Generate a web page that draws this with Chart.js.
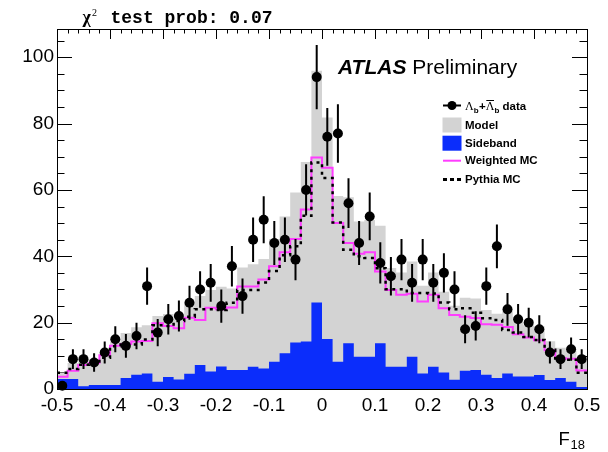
<!DOCTYPE html>
<html>
<head>
<meta charset="utf-8">
<script src="https://cdn.jsdelivr.net/npm/chart.js@4.4.0/dist/chart.umd.min.js"></script>
<style>
  html, body { margin: 0; padding: 0; background: #ffffff; }
  #wrap { width: 608px; height: 452px; position: relative; }
</style>
</head>
<body>
<div id="wrap"><canvas id="chart" width="608" height="452"></canvas></div>
<script>
// Histogram binning of F18: 50 bins from -0.5 to 0.5
const binLow = -0.5;
const binWidth = 0.02;

// Observed Lambda_b + anti-Lambda_b candidates per bin, with their statistical errors
const dataCounts = [1, 9, 9, 8, 11, 15, 13, 16, 31, 17, 21, 22, 26, 30, 32, 25, 37, 28, 45, 51,
                    44, 45, 39, 60, 94, 76, 77, 56, 44, 52, 38, 34, 39, 32, 39, 32, 35, 30, 18, 19,
                    31, 43, 24, 21, 20, 18, 11, 9, 12, 9];
const dataErrors = [1, 3, 3, 2.8, 3.3, 3.9, 3.6, 4, 5.6, 4.1, 4.6, 4.7, 5.1, 5.5, 5.7, 5, 6.1, 5.3, 6.7, 7.1,
                    6.6, 6.7, 6.2, 7.7, 9.7, 8.7, 8.8, 7.5, 6.6, 7.2, 6.2, 5.8, 6.2, 5.7, 6.2, 5.7, 5.9, 5.5, 4.2, 4.4,
                    5.6, 6.6, 4.9, 4.6, 4.5, 4.2, 3.3, 3, 3.5, 3];

// Full model (signal + background) per bin
const modelTotal = [5, 7.8, 8.2, 9, 10.8, 14.2, 16.9, 18.6, 19.2, 22, 22.6, 21.2, 26.1, 28, 29.8, 30.8, 30.3, 36.6, 37.6, 39.2,
                    45.2, 52, 59.2, 68.4, 95.9, 81.8, 58.2, 57.8, 50.5, 50.9, 49.2, 36.5, 35.1, 38.4, 31.1, 35.1, 29.3, 25.1, 27.5, 27.3,
                    23.8, 22.7, 23.4, 20.2, 19.2, 18.9, 14.4, 12.4, 11.5, 8.5];

// Background estimated from the mass sidebands
const sideband = [3, 3, 0.8, 1.2, 1.2, 1.2, 3.3, 4.3, 4.7, 2.2, 3.6, 2.9, 4.6, 7.2, 5.3, 6.8, 5.7, 5.7, 6.7, 6.2,
                  8.2, 10.8, 14, 14.3, 26.1, 15.1, 8.2, 13.8, 9.7, 9.7, 13.8, 6.7, 6.7, 9.7, 4.7, 6.7, 5, 2.8, 5.5, 5.7,
                  4.3, 3.3, 4.7, 3.8, 3.8, 4.2, 2.7, 3.3, 2.2, 0.6];

// Signal Monte Carlo: reweighted and plain Pythia
const weightedMC = [3.7, 5.5, 7.2, 7.8, 10.2, 13, 13.6, 14.3, 14.5, 19.8, 19, 18.3, 21.5, 20.8, 24.5, 24, 24.6, 30.9, 30.9, 33,
                    37, 41.2, 45.2, 54.1, 69.8, 66.7, 50, 44, 40.8, 41.2, 35.4, 29.8, 28.4, 28.7, 26.4, 28.4, 24.3, 22.3, 21.8, 21.4,
                    19.5, 19.4, 18.7, 16.5, 15.5, 14.7, 11.7, 9.3, 9.1, 5.6];
const pythiaMC = [4.9, 6, 7.3, 7.4, 9.4, 12.9, 13.4, 13.4, 14.9, 19.2, 19, 20.5, 21.8, 24, 24, 23.8, 26, 29.8, 29.8, 32.1,
                  35.6, 40.3, 43, 52.2, 68.3, 63.6, 50.2, 42, 40, 39.5, 36.4, 30.1, 30.1, 28.9, 28.9, 28.8, 26.1, 24, 24.3, 23,
                  21.3, 20.8, 17.8, 17, 15.7, 14.8, 11.8, 8.8, 8.8, 4.9];

// Axis ticks and labels
const xTickValues = [-0.5, -0.4, -0.3, -0.2, -0.1, 0, 0.1, 0.2, 0.3, 0.4, 0.5];
const xTickLabels = ['-0.5', '-0.4', '-0.3', '-0.2', '-0.1', '0', '0.1', '0.2', '0.3', '0.4', '0.5'];
const yTickValues = [0, 20, 40, 60, 80, 100];
const yTickLabels = ['0', '20', '40', '60', '80', '100'];
const yMax = 108.5;

const SANS = '"Liberation Sans", Arial, Helvetica, sans-serif';
const GRAY = '#d3d3d3';
const BLUE = '#0b2dfb';
const PINK = '#ff3dff';

// Turn per-bin contents into the corner points of a step outline
function stepPoints(values) {
  const pts = values.map((v, i) => ({ x: binLow + i * binWidth, y: v }));
  pts.push({ x: binLow + values.length * binWidth, y: values[values.length - 1] });
  return pts;
}
const dataPoints = dataCounts.map((v, i) => ({ x: binLow + (i + 0.5) * binWidth, y: v }));

// ROOT-style inward tick marks on all four sides, error bars and frame
const tickMarks = {
  id: 'tickMarks',
  beforeDatasetsDraw(chart) {
    const { ctx, chartArea: a, scales: { x, y } } = chart;
    ctx.save();
    ctx.strokeStyle = '#000';
    ctx.lineWidth = 1;
    ctx.beginPath();
    for (let v = 0; v <= yMax + 1e-9; v += 5) {
      const py = Math.round(y.getPixelForValue(v)) + 0.5;
      const len = (v % 20 === 0) ? 15 : 7.5;
      ctx.moveTo(a.left, py); ctx.lineTo(a.left + len, py);
      ctx.moveTo(a.right, py); ctx.lineTo(a.right - len, py);
    }
    for (let k = 0; k <= 50; k++) {
      const v = binLow + k * binWidth;
      const px = Math.round(x.getPixelForValue(v)) + 0.5;
      const len = (k % 5 === 0) ? 10 : 4.5;
      ctx.moveTo(px, a.top); ctx.lineTo(px, a.top + len);
      ctx.moveTo(px, a.bottom); ctx.lineTo(px, a.bottom - len);
    }
    ctx.stroke();
    ctx.restore();
  },
  afterDatasetsDraw(chart) {
    const { ctx, chartArea: a, scales: { x, y } } = chart;
    ctx.save();
    ctx.strokeStyle = '#000';
    ctx.lineWidth = 2;
    ctx.beginPath();
    dataCounts.forEach((v, i) => {
      const px = x.getPixelForValue(binLow + (i + 0.5) * binWidth);
      ctx.moveTo(px, y.getPixelForValue(Math.max(0, v - dataErrors[i])));
      ctx.lineTo(px, y.getPixelForValue(v + dataErrors[i]));
    });
    ctx.stroke();
    ctx.lineWidth = 1;
    ctx.strokeRect(Math.round(a.left) + 0.5, Math.round(a.top) + 0.5,
                   Math.round(a.right - a.left), Math.round(a.bottom - a.top));
    ctx.restore();
  }
};

// Titles, labels and the legend box
const annotations = {
  id: 'annotations',
  afterDraw(chart) {
    const ctx = chart.ctx;
    ctx.save();
    ctx.fillStyle = '#000';
    ctx.textBaseline = 'alphabetic';
    ctx.textAlign = 'left';

    // chi2 probability header
    ctx.font = 'bold 18px "Liberation Serif", "DejaVu Serif", serif';
    ctx.fillText('\u03c7', 82.5, 22.7);
    ctx.font = '10px "Liberation Serif", "DejaVu Serif", serif';
    ctx.fillText('2', 92, 16);
    ctx.font = 'bold 18px "Liberation Mono", "DejaVu Sans Mono", monospace';
    ctx.fillText('test prob: 0.07', 110.5, 22.7);

    // experiment label
    ctx.font = 'italic bold 21px ' + SANS;
    ctx.fillText('ATLAS', 338, 73.5);
    const wA = ctx.measureText('ATLAS ').width;
    ctx.font = '21px ' + SANS;
    ctx.fillText('Preliminary', 338 + wA, 73.5);

    // x axis title F_18
    ctx.font = '18.5px ' + SANS;
    ctx.fillText('F', 558.5, 444.5);
    ctx.font = '13px ' + SANS;
    ctx.fillText('18', 570.5, 449);

    // legend
    const sx0 = 443, sx1 = 461, tx = 465;
    ctx.strokeStyle = '#000';
    ctx.lineWidth = 2;
    ctx.beginPath(); ctx.moveTo(sx0, 105.5); ctx.lineTo(sx1, 105.5); ctx.stroke();
    ctx.beginPath(); ctx.arc(452, 105.5, 4.5, 0, Math.PI * 2); ctx.fill();
    let cx = tx;
    const base = 110;
    ctx.font = '12px "Liberation Serif", "DejaVu Serif", serif';
    ctx.fillText('\u039b', cx, base); cx += ctx.measureText('\u039b').width;
    ctx.font = 'bold 8px ' + SANS;
    ctx.fillText('b', cx, base + 2.5); cx += ctx.measureText('b').width + 0.5;
    ctx.font = 'bold 11.5px ' + SANS;
    ctx.fillText('+', cx, base); cx += ctx.measureText('+').width;
    ctx.font = '12px "Liberation Serif", "DejaVu Serif", serif';
    const wL = ctx.measureText('\u039b').width;
    ctx.fillText('\u039b', cx, base);
    ctx.lineWidth = 1;
    ctx.beginPath(); ctx.moveTo(cx + 0.5, 100.5); ctx.lineTo(cx + wL - 0.5, 100.5); ctx.stroke();
    cx += wL;
    ctx.font = 'bold 8px ' + SANS;
    ctx.fillText('b', cx, base + 2.5); cx += ctx.measureText('b').width;
    ctx.font = 'bold 11.5px ' + SANS;
    ctx.fillText(' data', cx, base);

    ctx.fillStyle = GRAY;
    ctx.fillRect(442.5, 117.5, 19, 15);
    ctx.fillStyle = BLUE;
    ctx.fillRect(442.5, 135.7, 19, 15);
    ctx.fillStyle = '#000';
    ctx.fillText('Model', tx, 129.3);
    ctx.fillText('Sideband', tx, 147.3);

    ctx.strokeStyle = PINK;
    ctx.lineWidth = 2;
    ctx.beginPath(); ctx.moveTo(sx0, 160.7); ctx.lineTo(sx1, 160.7); ctx.stroke();
    ctx.fillText('Weighted MC', tx, 164);
    ctx.strokeStyle = '#000';
    ctx.lineWidth = 3;
    ctx.setLineDash([4, 3]);
    ctx.beginPath(); ctx.moveTo(sx0, 179.5); ctx.lineTo(sx1, 179.5); ctx.stroke();
    ctx.setLineDash([]);
    ctx.fillText('Pythia MC', tx, 182.8);
    ctx.restore();
  }
};

new Chart(document.getElementById('chart'), {
  type: 'line',
  data: {
    datasets: [
      {
        label: 'data',
        data: dataPoints,
        showLine: false,
        pointRadius: 5,
        pointStyle: 'circle',
        pointBackgroundColor: '#000',
        pointBorderColor: '#000',
        pointBorderWidth: 0,
        clip: false,
        order: 0
      },
      {
        label: 'Pythia MC',
        data: stepPoints(pythiaMC),
        stepped: 'before',
        borderColor: '#000',
        borderWidth: 2.5,
        borderDash: [3, 4.5],
        pointRadius: 0,
        fill: false,
        order: 1
      },
      {
        label: 'Weighted MC',
        data: stepPoints(weightedMC),
        stepped: 'before',
        borderColor: PINK,
        borderWidth: 2,
        pointRadius: 0,
        fill: false,
        order: 2
      },
      {
        label: 'Sideband',
        data: stepPoints(sideband),
        stepped: 'before',
        borderWidth: 0,
        borderColor: BLUE,
        backgroundColor: BLUE,
        pointRadius: 0,
        fill: 'origin',
        order: 3
      },
      {
        label: 'Model',
        data: stepPoints(modelTotal),
        stepped: 'before',
        borderWidth: 0,
        borderColor: GRAY,
        backgroundColor: GRAY,
        pointRadius: 0,
        fill: 'origin',
        order: 4
      }
    ]
  },
  options: {
    responsive: false,
    animation: false,
    devicePixelRatio: 1,
    layout: { padding: { top: 29, right: 21, left: 0, bottom: 0 } },
    plugins: { legend: { display: false }, tooltip: { enabled: false }, title: { display: false } },
    scales: {
      x: {
        type: 'linear',
        min: -0.5,
        max: 0.5,
        afterBuildTicks: s => { s.ticks = xTickValues.map(v => ({ value: v })); },
        afterFit: s => { s.height = 63; },
        grid: { display: false, drawTicks: false },
        border: { display: false },
        ticks: {
          autoSkip: false,
          maxRotation: 0,
          padding: 5,
          color: '#000',
          font: { family: SANS, size: 19 },
          callback: (v, i) => xTickLabels[i]
        }
      },
      y: {
        type: 'linear',
        min: 0,
        max: yMax,
        afterBuildTicks: s => { s.ticks = yTickValues.map(v => ({ value: v })); },
        afterFit: s => { s.width = 57; },
        grid: { display: false, drawTicks: false },
        border: { display: false },
        ticks: {
          autoSkip: false,
          padding: 3,
          color: '#000',
          font: { family: SANS, size: 19 },
          callback: (v, i) => yTickLabels[i]
        }
      }
    }
  },
  plugins: [tickMarks, annotations]
});
</script>
</body>
</html>
